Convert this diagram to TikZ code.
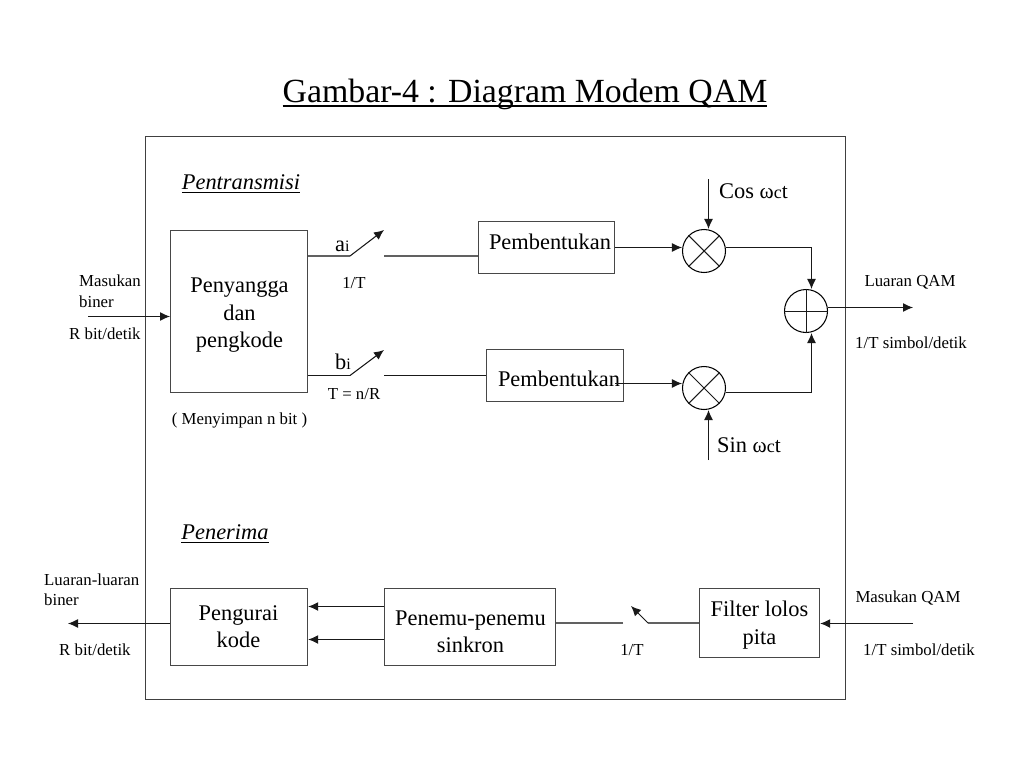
\documentclass[tikz,border=0pt]{standalone}
\usepackage{fontspec}
\setmainfont{Liberation Serif}
\usetikzlibrary{arrows.meta,calc}
\newcommand{\fsz}[1]{\fontsize{#1}{#1}\selectfont}
\newsavebox{\ulbox}
\newcommand{\ulx}[3]{\sbox{\ulbox}{#3}\rlap{\rule[-#1]{\wd\ulbox}{#2}}\usebox{\ulbox}}
\tikzset{
  x=1pt,y=-1pt,
  wire/.style={line width=1.05pt,black!90},
  flow/.style={wire,-{Latex[length=10pt,width=9pt]}},
  plain/.style={line width=1.2pt,black!62},
  blockbox/.style={draw=black!72,line width=1.2pt,align=center,inner sep=0pt,anchor=north west},
  mix/.style={draw=black,circle,line width=1.05pt,minimum size=43pt,inner sep=0pt},
  lab/.style={inner sep=0pt,align=left,font=\fsz{16.8}},
  biglab/.style={inner sep=0pt,font=\fsz{22.4}},
  multi/.style={inner sep=0pt,align=center,font=\fsz{22.4}},
  head/.style={inner sep=0pt,font=\fsz{22.4}\itshape},
}
\begin{document}
\begin{tikzpicture}
\useasboundingbox (0,0) rectangle (1024,768);
\fill[white] (0,0) rectangle (1024,768);
\node[inner sep=0pt,font=\fsz{33.8},anchor=base] (title) at (525,102) {\ulx{4.5pt}{1.4pt}{Gambar-4 : Diagram Modem QAM}};
\node[draw=black!75,line width=1.2pt,minimum width=700pt,minimum height=563pt,inner sep=0pt,anchor=north west] (frame) at (145,136) {};

\node[head,anchor=base] (tx) at (241,189) {\ulx{4pt}{1pt}{Pentransmisi}};
\node[head,anchor=base] (rx) at (225,539) {\ulx{4pt}{1pt}{Penerima}};

\node[blockbox,minimum width=137pt,minimum height=162pt] (buf) at (170,230) {};
\node[multi,anchor=north] (buftext) at (239.5,278) {Penyangga\\[5pt]dan\\[5pt]pengkode};
\node[blockbox,minimum width=136pt,minimum height=52pt] (p1) at (478,221) {};
\node[biglab,anchor=base] (p1t) at (550,249) {Pembentukan};
\node[blockbox,minimum width=137pt,minimum height=52pt] (p2) at (486,349) {};
\node[biglab,anchor=base] (p2t) at (559,386) {Pembentukan};
\node[blockbox,minimum width=137pt,minimum height=77pt] (dec) at (170,588) {};
\node[multi,anchor=north] (dect) at (238.5,605) {Pengurai\\[5pt]kode};
\node[blockbox,minimum width=171pt,minimum height=77pt] (sync) at (384,588) {};
\node[multi,anchor=north] (synct) at (470.5,610.5) {Penemu-penemu\\[5pt]sinkron};
\node[blockbox,minimum width=120pt,minimum height=69pt] (filt) at (699,588) {};
\node[multi,anchor=north] (filtt) at (759.5,601) {Filter lolos\\[5pt]pita};

\node[mix] (m1) at (704,251) {};
\node[mix] (m2) at (704,388) {};
\node[mix] (sum) at (806,311) {};
\draw[wire] (m1.north west) -- (m1.south east) (m1.north east) -- (m1.south west);
\draw[wire] (m2.north west) -- (m2.south east) (m2.north east) -- (m2.south west);
\draw[wire] ($(sum.north)+(0.5,0)$) -- ($(sum.south)+(0.5,0)$) ($(sum.west)+(0,0.5)$) -- ($(sum.east)+(0,0.5)$);

\coordinate (in) at (88,316.5);
\coordinate (aA) at (350,256);
\coordinate (aTip) at (384,230);
\coordinate (aB) at (384,256);
\coordinate (bA) at (350,375.5);
\coordinate (bTip) at (384,350);
\coordinate (bB) at (384,375.5);
\coordinate (y1) at (640,247.5);
\coordinate (y2s) at (615,383.5);
\coordinate (cosT) at (708.5,179);
\coordinate (sinB) at (708.5,460);
\coordinate (corner1) at (811.5,247.5);
\coordinate (corner2) at (811.5,392.5);
\coordinate (out) at (913,307.5);
\coordinate (rin) at (913,623.5);
\coordinate (cA) at (648,623);
\coordinate (cTip) at (631,606);
\coordinate (cB) at (623,623);
\coordinate (y606) at (345,606.5);
\coordinate (y639) at (345,639.5);
\coordinate (rout) at (68,623.5);

\draw[flow] (in) -- (buf.west |- in);
\draw[plain] (buf.east |- aA) -- (aA);
\draw[flow] (aA) -- (aTip);
\draw[plain] (aB) -- (p1.west |- aB);
\draw[wire] (buf.east |- bA) -- (bA);
\draw[flow] (bA) -- (bTip);
\draw[wire] (bB) -- (p2.west |- bB);

\draw[flow] (p1.east |- y1) -- (m1.west |- y1);
\draw[flow] (y2s) -- (m2.west |- y2s);
\draw[flow] (cosT) -- (cosT |- m1.north);
\draw[flow] (sinB) -- (sinB |- m2.south);
\draw[wire] (m1.east |- corner1) -- (corner1);
\draw[flow] (corner1) -- (corner1 |- sum.north);
\draw[wire] (m2.east |- corner2) -- (corner2);
\draw[flow] (corner2) -- (corner2 |- sum.south);
\draw[flow] (sum.east |- out) -- (out);

\draw[flow] (rin) -- (filt.east |- rin);
\draw[plain] (filt.west |- cA) -- (cA);
\draw[flow] (cA) -- (cTip);
\draw[plain] (cB) -- (sync.east |- cB);
\draw[flow] (sync.west |- y606) -- (dec.east |- y606);
\draw[flow] (sync.west |- y639) -- (dec.east |- y639);
\draw[flow] (dec.west |- rout) -- (rout);

\node[lab,anchor=base west] (l1) at (79,286) {Masukan};
\node[lab,anchor=base west] (l2) at (79,307) {biner};
\node[lab,anchor=base west] (l3) at (69,339) {R bit/detik};
\node[lab,anchor=base west,font=\fsz{22.4}] (la) at (335,251) {a{\fsz{16}i}};
\node[lab,anchor=base] (l4) at (354,288) {1/T};
\node[lab,anchor=base west,font=\fsz{22.4}] (lb) at (335,369) {b{\fsz{16}i}};
\node[lab,anchor=base] (l5) at (354,399) {T = n/R};
\node[lab,anchor=base] (l6) at (239.5,424) {( Menyimpan n bit )};
\node[lab,anchor=base west,font=\fsz{22.4}] (lc) at (719,198) {Cos {\fsz{21.5}ω}{\fsz{18}c}{\fsz{21.5}t}};
\node[lab,anchor=base west,font=\fsz{22.4}] (ls) at (717,452) {Sin {\fsz{21.5}ω}{\fsz{18}c}{\fsz{21.5}t}};
\node[lab,anchor=base] (l7) at (910,286) {Luaran QAM};
\node[lab,anchor=base] (l8) at (911,348) {1/T simbol/detik};
\node[lab,anchor=base west] (l9) at (44,585) {Luaran-luaran};
\node[lab,anchor=base west] (l10) at (44,605) {biner};
\node[lab,anchor=base west] (l11) at (59,655) {R bit/detik};
\node[lab,anchor=base] (l12) at (632,655) {1/T};
\node[lab,anchor=base] (l13) at (908,602) {Masukan QAM};
\node[lab,anchor=base] (l14) at (919,655) {1/T simbol/detik};
\end{tikzpicture}
\end{document}
